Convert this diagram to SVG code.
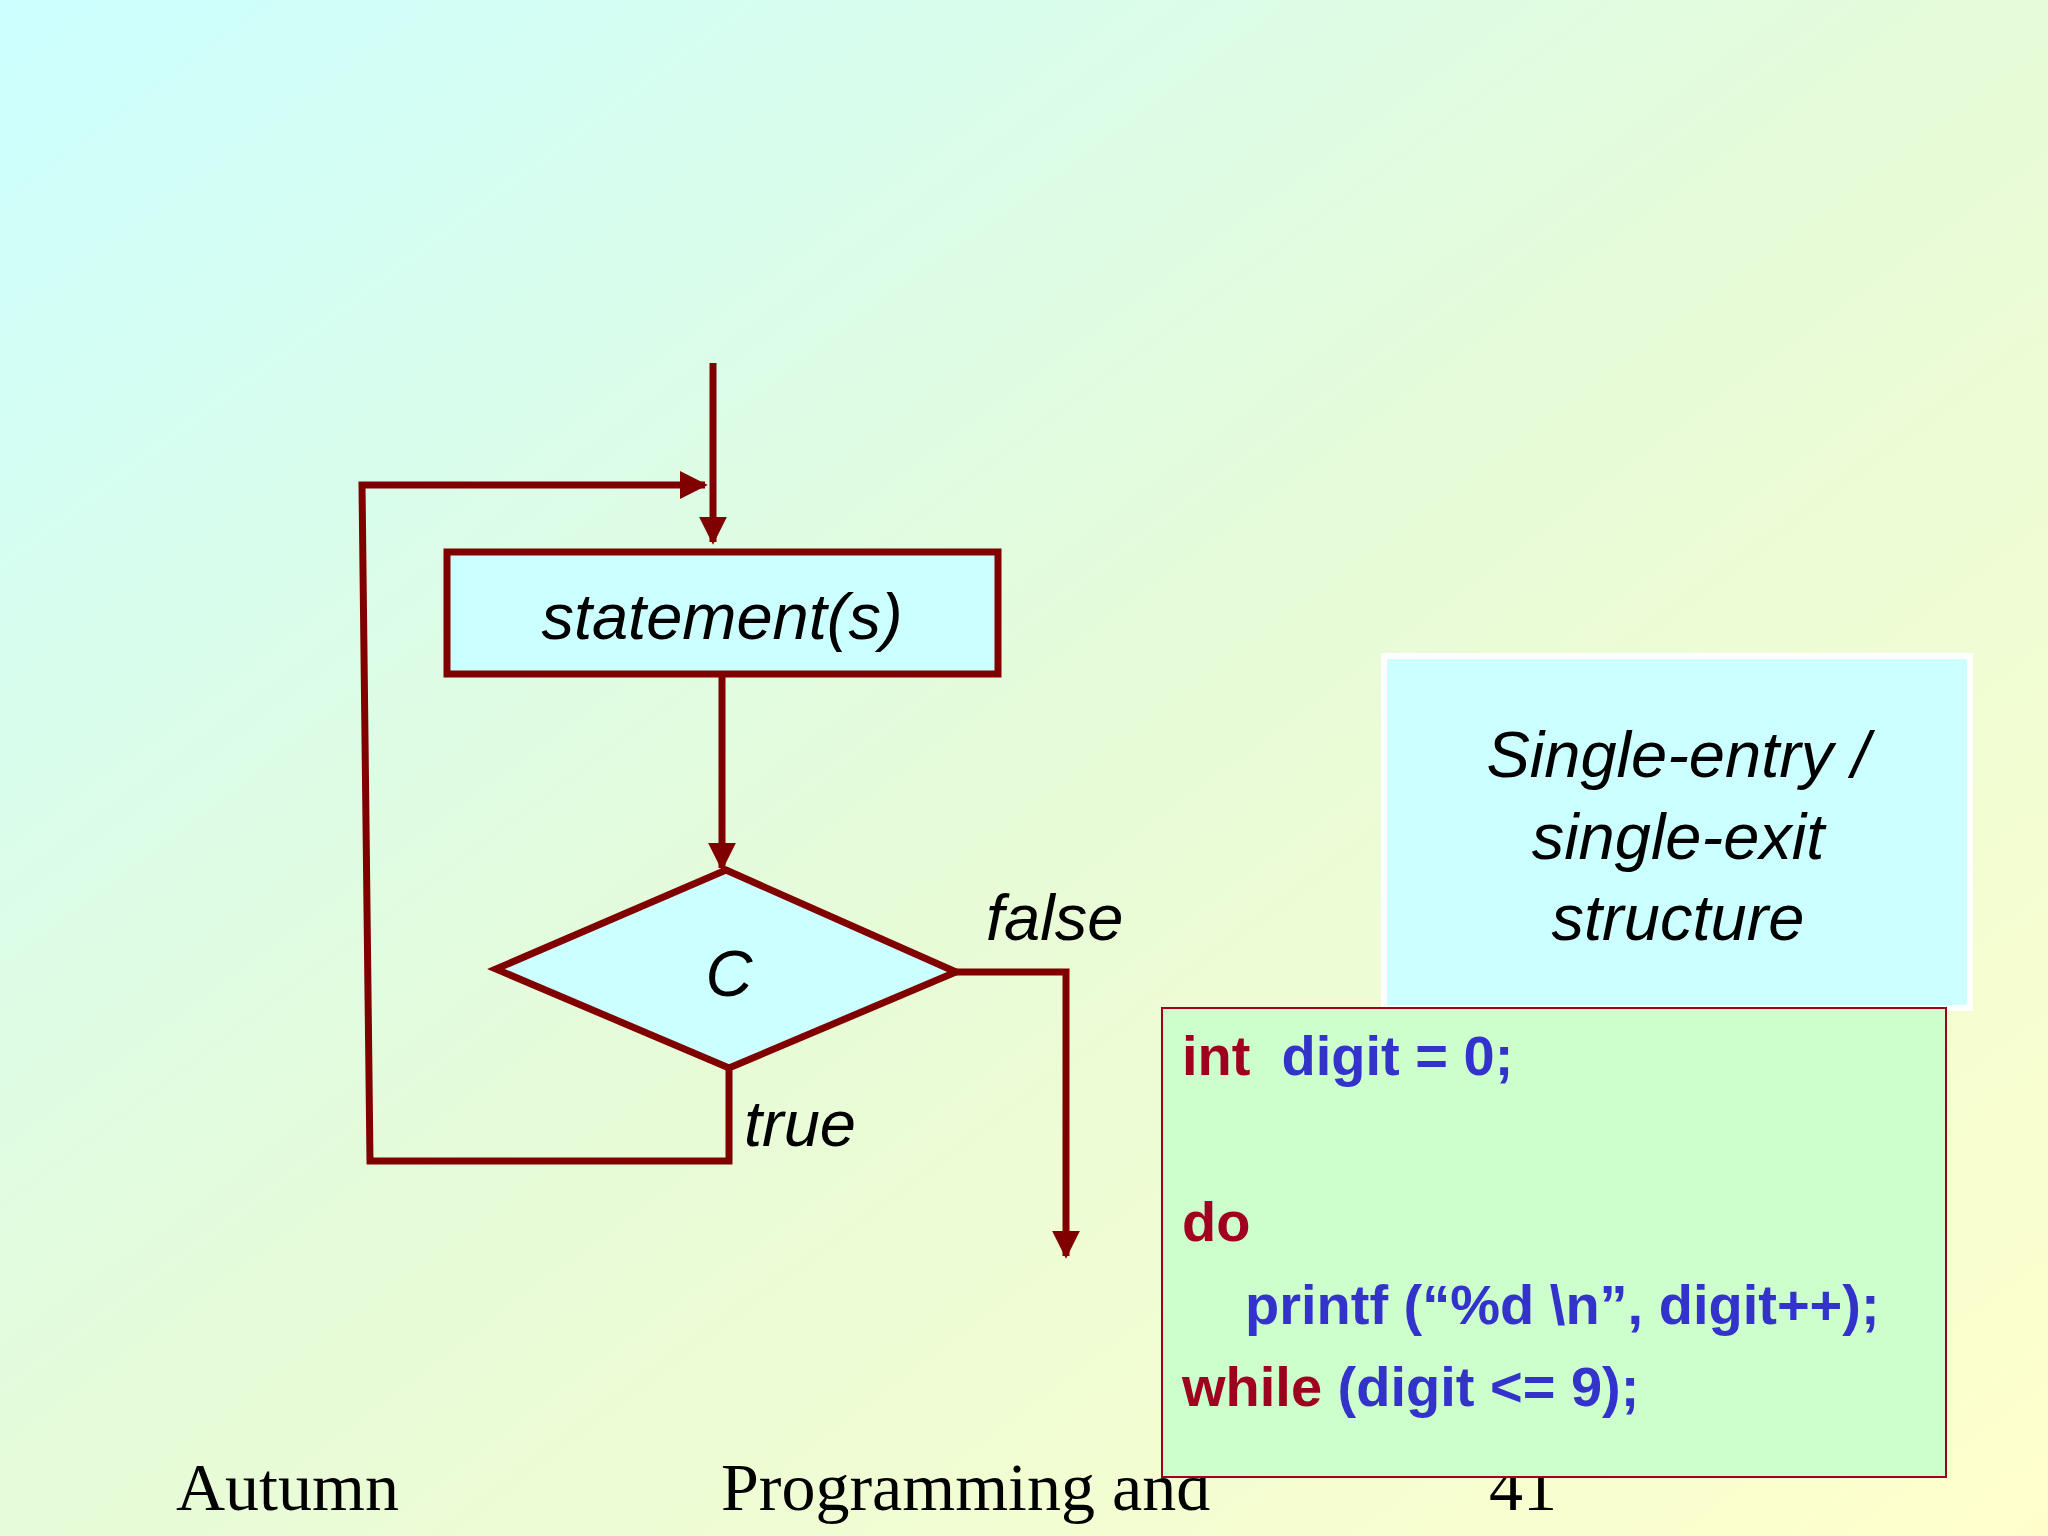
<svg xmlns="http://www.w3.org/2000/svg" width="2048" height="1536" viewBox="0 0 2048 1536">
<defs>
<linearGradient id="bg" x1="0" y1="0" x2="1" y2="1">
<stop offset="0" stop-color="#ccffff"/>
<stop offset="0.5" stop-color="#e6fbd8"/>
<stop offset="1" stop-color="#ffffcc"/>
</linearGradient>
<marker id="ah" viewBox="0 0 10 10" refX="9" refY="5" markerWidth="4" markerHeight="4" orient="auto" markerUnits="strokeWidth">
<path d="M0,0 L10,5 L0,10 z" fill="#800000"/>
</marker>
<style>
.ln{stroke:#800000;stroke-width:7;fill:none}
.nd{stroke:#800000;stroke-width:7;fill:#ccffff}
.lbl{font-family:"Liberation Sans",Arial,sans-serif;font-style:italic;font-size:65px;fill:#000}
.kw{font-family:"Liberation Sans",Arial,sans-serif;font-weight:bold;font-size:56px;fill:#a00020}
.cd{font-family:"Liberation Sans",Arial,sans-serif;font-weight:bold;font-size:56px;fill:#3333cc}
.ft{font-family:"Liberation Serif","Times New Roman",serif;font-size:68px;fill:#000}
</style>
</defs>
<rect width="2048" height="1536" fill="url(#bg)"/>
<g id="footer">
<text class="ft" x="176" y="1510">Autumn</text>
<text class="ft" x="721" y="1510">Programming and</text>
<text class="ft" x="1489" y="1510">41</text>
</g>
<g id="connectors">
<line class="ln" x1="713" y1="363" x2="713" y2="542" marker-end="url(#ah)"/>
<polyline class="ln" points="729,1068 729,1161 370,1161 362,485 705,485" marker-end="url(#ah)"/>
<line class="ln" x1="722" y1="674" x2="722" y2="868" marker-end="url(#ah)"/>
<polyline class="ln" points="956,972 1066,972 1066,1256" marker-end="url(#ah)"/>
</g>
<g id="statements">
<rect x="447" y="552" width="551" height="122" class="nd"/>
<text class="lbl" x="722" y="639" text-anchor="middle">statement(s)</text>
</g>
<g id="cond">
<polygon points="726,870 956,972 729,1068 496,969" class="nd"/>
<text class="lbl" x="729" y="996" text-anchor="middle">C</text>
</g>
<text class="lbl" x="986" y="940">false</text>
<text class="lbl" x="744" y="1146">true</text>
<g id="note">
<rect x="1384" y="656" width="586" height="352" fill="#ccffff" stroke="#ffffff" stroke-width="6"/>
<text class="lbl" x="1678" y="777" text-anchor="middle">Single-entry /</text>
<text class="lbl" x="1678" y="859" text-anchor="middle">single-exit</text>
<text class="lbl" x="1678" y="940" text-anchor="middle">structure</text>
</g>
<g id="code">
<rect x="1162" y="1008" width="784" height="469" fill="#ccffcc" stroke="#a00020" stroke-width="2"/>
<text x="1182" y="1075"><tspan class="kw">int</tspan><tspan class="cd" xml:space="preserve">  digit = 0;</tspan></text>
<text class="kw" x="1182" y="1241">do</text>
<text class="cd" x="1245" y="1324">printf (“%d \n”, digit++);</text>
<text x="1182" y="1406"><tspan class="kw">while</tspan><tspan class="cd"> (digit &lt;= 9);</tspan></text>
</g>
</svg>
